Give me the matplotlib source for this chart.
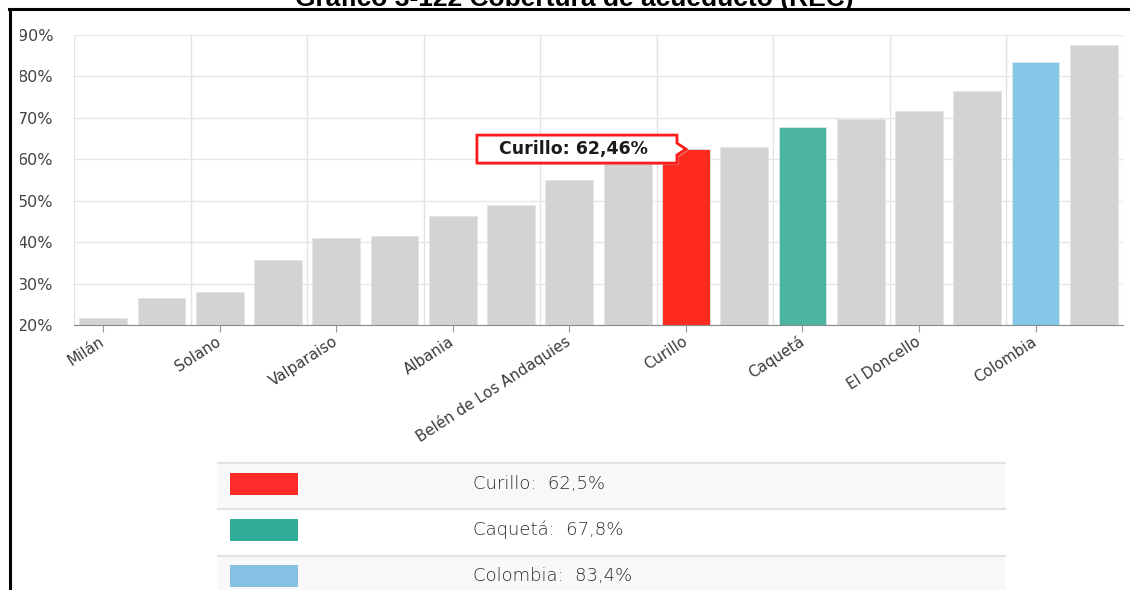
import numpy as np
import matplotlib.pyplot as plt
from matplotlib import transforms as mtransforms
from matplotlib.patches import Polygon, Rectangle
from matplotlib.lines import Line2D

# data
title = 'Gráfico 3-122 Cobertura de acueducto (REC)'
labels = ['Milán', '', 'Solano', '', 'Valparaiso', '', 'Albania', '',
          'Belén de Los Andaquies', '', 'Curillo', '', 'Caquetá', '',
          'El Doncello', '', 'Colombia', '']
values = [21.6, 26.6, 27.9, 35.7, 40.9, 41.5, 46.3, 49.0, 55.0, 61.0,
          62.46, 62.9, 67.8, 69.7, 71.6, 76.4, 83.4, 87.6]
bar_colors = {'Curillo': '#ff2a1e', 'Caquetá': '#4bb5a2', 'Colombia': '#86c7e8'}
tooltip_name = 'Curillo'
yticks = [20, 30, 40, 50, 60, 70, 80, 90]

legend_names = ['Curillo', 'Caquetá', 'Colombia']
legend_values = [62.5, 67.8, 83.4]
legend_colors = ['#ff2b2b', '#30ad96', '#85c1e2']

W, H = 1130, 590


def fx(px):
    return px / W


def fy(py):
    return 1 - py / H


fig = plt.figure(figsize=(W / 100, H / 100), dpi=100)
fig.patch.set_facecolor('white')

ax = fig.add_axes([fx(74), fy(325), fx(1123 - 74), (325 - 35) / H])
x = np.arange(len(values))
colors = [bar_colors.get(l, '#d3d3d3') for l in labels]
ax.bar(x, values, width=0.82, color=colors, edgecolor='#d9e6ee',
       linewidth=0.6, zorder=2)

ax.set_xlim(-0.5, len(values) - 0.5)
ax.set_ylim(20, 90)
ax.set_yticks(yticks)
ax.set_yticklabels([f'{v}%' for v in yticks], fontsize=11.5, color='#444444',
                   fontfamily='DejaVu Sans')
ax.yaxis.grid(True, color='#e6e6e6', lw=1, zorder=0)
for gx in np.arange(-0.5, len(values), 2):
    ax.axvline(gx, color='#e3e3e3', lw=1, zorder=0)
ax.tick_params(axis='y', length=0, pad=15)

ax.set_xticks(x[::2])
ax.set_xticklabels(labels[::2], rotation=33, ha='right', va='center',
                   rotation_mode='anchor', fontsize=10.8, color='#3a3a3a')
ax.tick_params(axis='x', length=5, color='#999999', pad=6)
for s in ['top', 'right', 'left']:
    ax.spines[s].set_visible(False)
ax.spines['bottom'].set_color('#8a8a8a')
ax.spines['bottom'].set_zorder(3)

# tooltip on the Curillo bar
ti = labels.index(tooltip_name)
tv = values[ti]
trans = fig.dpi_scale_trans + mtransforms.ScaledTranslation(ti, tv, ax.transData)
pts = np.array([(-209, 14), (-9, 14), (-9, 6), (0, 0), (-9, -6), (-9, -14), (-209, -14)]) / 100
ax.add_patch(Polygon(pts + np.array([0.02, -0.02]), closed=True, transform=trans,
                     facecolor='#cccccc', edgecolor='none', alpha=0.5, zorder=4,
                     clip_on=False))
ax.add_patch(Polygon(pts, closed=True, transform=trans, facecolor='white',
                     edgecolor='#ff1a1a', lw=2, zorder=5, clip_on=False))
ax.text(-112 / 100, 0, f'{tooltip_name}: {tv:.2f}%'.replace('.', ','),
        transform=trans, ha='center', va='center', fontsize=12.5,
        fontweight='bold', color='#1a1a1a', zorder=6)

# legend table below the chart
row_tops = [463, 509, 556]
row_h = 46
for i, (n, v, c) in enumerate(zip(legend_names, legend_values, legend_colors)):
    top = row_tops[i]
    bg = '#f8f8f8' if i % 2 == 0 else 'white'
    fig.add_artist(Rectangle((fx(218), fy(top + row_h)), fx(1005 - 218), row_h / H,
                             transform=fig.transFigure, facecolor=bg, edgecolor='none'))
    fig.add_artist(Line2D([fx(218), fx(1005)], [fy(top), fy(top)],
                          transform=fig.transFigure, color='#e2e2e2', lw=1.5))
    cy = top + 21 if i < 2 else top + 20
    fig.add_artist(Rectangle((fx(230), fy(cy + 11)), fx(68), 22 / H,
                             transform=fig.transFigure, facecolor=c, edgecolor='none'))
    fig.text(fx(473), fy(cy), f'{n}:  {v:.1f}%'.replace('.', ','), ha='left',
             va='center', fontsize=13, color='#2e2e2e', fontfamily='DejaVu Sans',
             fontweight='light')

# outer frame and cut title (the y labels are cropped at the frame like the source)
fig.add_artist(Rectangle((0, 0), fx(20), 1, transform=fig.transFigure,
                         facecolor='white', edgecolor='none', zorder=10))
fig.add_artist(Line2D([fx(10), fx(10)], [0, fy(9)], transform=fig.transFigure,
                      color='black', lw=2.2, zorder=11))
fig.add_artist(Line2D([fx(9), 1], [fy(9), fy(9)], transform=fig.transFigure,
                      color='black', lw=2.2, zorder=11))
fig.text(fx(574), fy(6), title, ha='center', va='baseline', fontsize=19,
         fontweight='bold', fontfamily='Liberation Sans', color='black')

fig.savefig('out.png', dpi=100)
